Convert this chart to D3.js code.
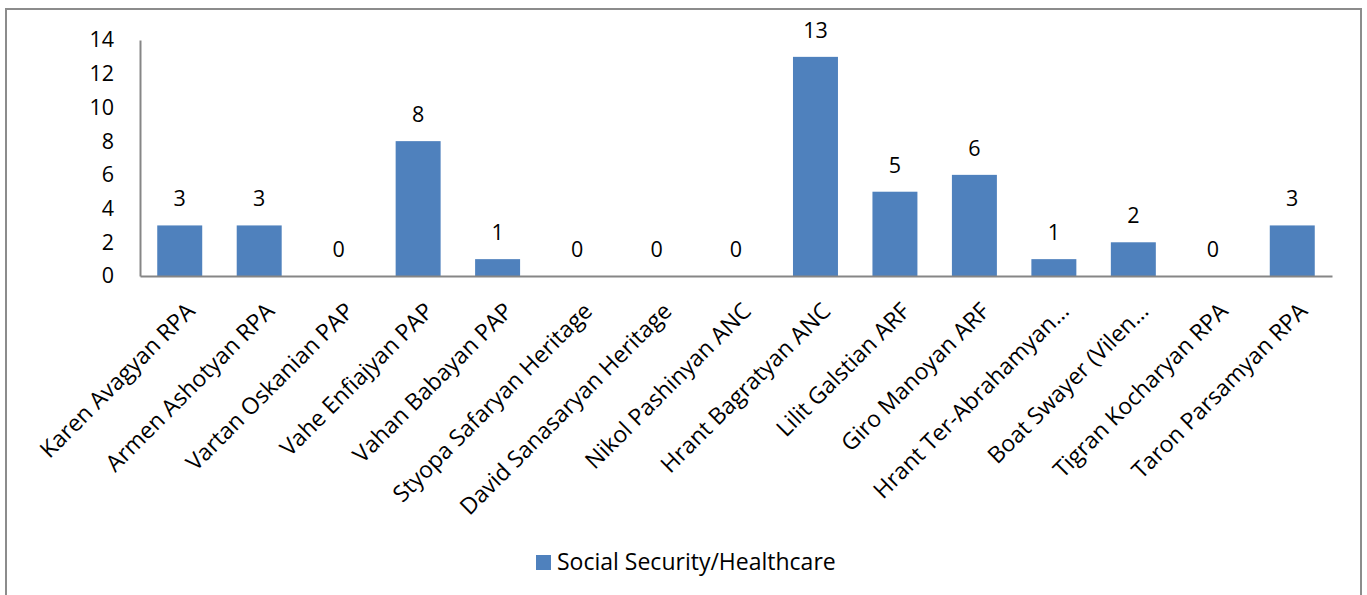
<!DOCTYPE html>
<html>
<head>
<meta charset="utf-8">
<script src="https://cdn.jsdelivr.net/npm/d3@7"></script>
<style>
  html, body { margin: 0; padding: 0; background: #fff; }
  svg { display: block; }
  text { font-family: "Open Sans", Lato, sans-serif; fill: #000; }
</style>
</head>
<body>
<script>
const categories = [
  "Karen Avagyan RPA", "Armen Ashotyan RPA", "Vartan Oskanian PAP", "Vahe Enfiajyan PAP",
  "Vahan Babayan PAP", "Styopa Safaryan Heritage", "David Sanasaryan Heritage", "Nikol Pashinyan ANC",
  "Hrant Bagratyan ANC", "Lilit Galstian ARF", "Giro Manoyan ARF", "Hrant Ter-Abrahamyan…",
  "Boat Swayer (Vilen…", "Tigran Kocharyan RPA", "Taron Parsamyan RPA"
];
const values = [3, 3, 0, 8, 1, 0, 0, 0, 13, 5, 6, 1, 2, 0, 3];
const yTicks = [0, 2, 4, 6, 8, 10, 12, 14];
const seriesName = "Social Security/Healthcare";

const W = 1367, H = 595;
const FS_NUM = "21.5px", FS_TXT = "23px";
const svg = d3.select("body").append("svg").attr("width", W).attr("height", H);

// outer border
svg.append("rect").attr("x", 6).attr("y", 9).attr("width", 1355).attr("height", 600)
  .attr("fill", "none").attr("stroke", "#8c8c8c").attr("stroke-width", 2);

const pLeft = 140, pRight = 1332, pTop = 40, pBottom = 276;
const x = d3.scaleBand().domain(categories).range([pLeft, pRight]).paddingInner(0.434).paddingOuter(0.217);
const y = d3.scaleLinear().domain([0, 14]).range([pBottom, pTop]);

// y axis
const yAxis = d3.axisLeft(y).tickValues(yTicks).tickSize(0).tickPadding(26);
const gy = svg.append("g").attr("transform", `translate(${pLeft},0)`).call(yAxis);
gy.select(".domain").attr("stroke", "#868686").attr("stroke-width", 2);
gy.selectAll("text").style("font-size", FS_NUM).style("font-family", "'Open Sans', sans-serif").attr("fill", "#000");

// bars
svg.append("g").selectAll("rect").data(values).join("rect")
  .attr("x", (d, i) => x(categories[i]))
  .attr("width", x.bandwidth())
  .attr("y", d => y(d))
  .attr("height", d => y(0) - y(d))
  .attr("fill", "#4F81BD");

// x axis
const xAxis = d3.axisBottom(x).tickSize(0).tickFormat(() => "");
const gx = svg.append("g").attr("transform", `translate(0,${pBottom})`).call(xAxis);
gx.select(".domain").attr("stroke", "#868686").attr("stroke-width", 2);

// category labels
svg.append("g").selectAll("text").data(categories).join("text")
  .attr("transform", d => `translate(${x(d) + x.bandwidth() / 2 + 5},${301}) rotate(-45)`)
  .attr("text-anchor", "end")
  .attr("dy", "0.71em")
  .style("font-size", FS_TXT)
  .text(d => d);

// value labels
svg.append("g").selectAll("text").data(values).join("text")
  .attr("x", (d, i) => x(categories[i]) + x.bandwidth() / 2)
  .attr("y", d => y(d) - 19)
  .attr("text-anchor", "middle")
  .style("font-size", FS_NUM)
  .text(d => d);

// legend
const lg = svg.append("g");
lg.append("rect").attr("x", 536).attr("y", 555).attr("width", 15).attr("height", 15).attr("fill", "#4F81BD");
lg.append("text").attr("x", 557).attr("y", 562).attr("dy", "0.35em").style("font-size", FS_TXT).text(seriesName);
</script>
</body>
</html>
